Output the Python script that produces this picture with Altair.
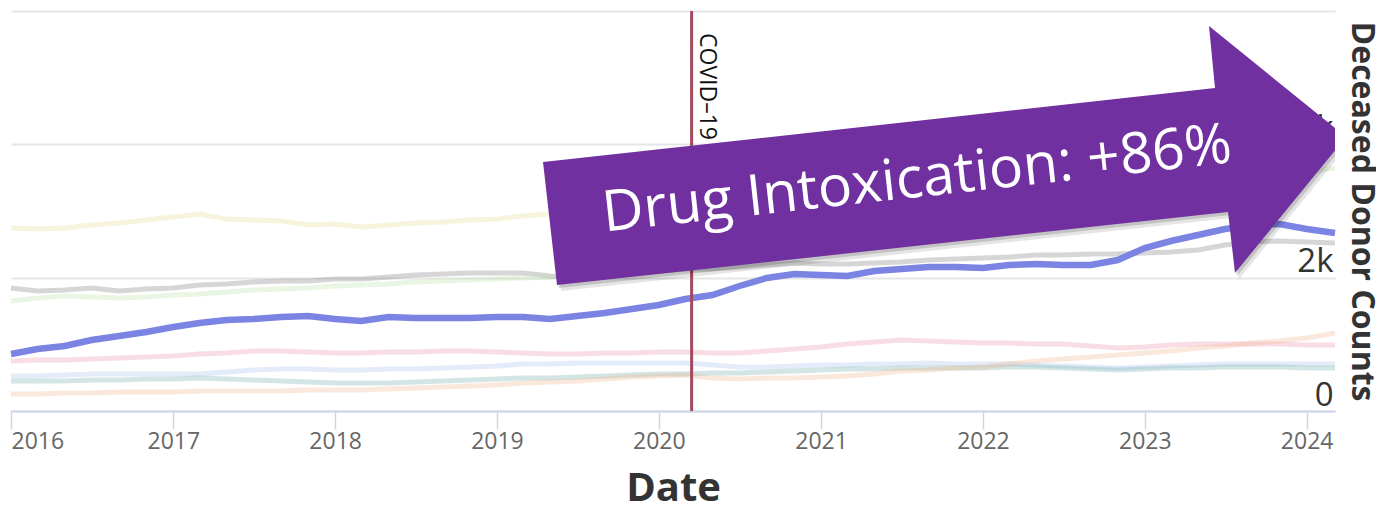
import altair as alt
import pandas as pd

# ---- data ----
DATES = pd.date_range("2016-01-01", "2024-01-01", freq="2MS").strftime("%Y-%m-%d").tolist() + ["2024-03-05"]

DRUG_INTOX = [855, 930, 975, 1065, 1125, 1185,
              1260, 1320, 1365, 1380, 1410, 1425,
              1380, 1350, 1410, 1395, 1395, 1395,
              1410, 1410, 1380, 1425, 1470, 1530,
              1590, 1680, 1740, 1875, 1995, 2055,
              2040, 2025, 2100, 2130, 2160, 2160,
              2145, 2190, 2205, 2190, 2190, 2265,
              2445, 2550, 2640, 2730, 2790, 2805,
              2730, 2670]

STROKE = [2745, 2730, 2745, 2790, 2820, 2865,
          2910, 2955, 2880, 2865, 2850, 2790,
          2805, 2760, 2790, 2820, 2835, 2865,
          2880, 2925, 2955, 3000, 3030, 3060,
          3090, 3120, 3080, 3150, 3220, 3280,
          3320, 3360, 3400, 3430, 3460, 3490,
          3520, 3560, 3600, 3640, 3680, 3720,
          3780, 3840, 3900, 3950, 3990, 4030,
          4060, 4080]

BLUNT = [1845, 1800, 1815, 1845, 1800, 1830,
         1845, 1890, 1905, 1935, 1950, 1950,
         1980, 1980, 2010, 2040, 2055, 2070,
         2070, 2070, 2025, 2010, 2040, 2070,
         2100, 2130, 2130, 2160, 2190, 2220,
         2205, 2205, 2220, 2235, 2265, 2280,
         2295, 2310, 2340, 2340, 2355, 2355,
         2370, 2385, 2415, 2490, 2535, 2550,
         2535, 2520]

CARDIO = [1650, 1695, 1725, 1710, 1695, 1710,
          1740, 1755, 1785, 1815, 1830, 1845,
          1875, 1890, 1905, 1935, 1950, 1965,
          1980, 1995, 2010, 2040, 2070, 2100,
          2130, 2180, 2250, 2300, 2380, 2450,
          2480, 2540, 2600, 2660, 2690, 2740,
          2790, 2850, 2900, 2960, 3010, 3080,
          3150, 3210, 3280, 3350, 3440, 3520,
          3590, 3645]

GUNSHOT = [750, 765, 765, 780, 795, 810,
           825, 855, 870, 900, 900, 885,
           870, 870, 885, 885, 900, 900,
           885, 870, 855, 855, 870, 870,
           885, 885, 870, 870, 900, 930,
           960, 1005, 1035, 1065, 1050, 1035,
           1020, 1020, 1005, 1005, 975, 945,
           960, 990, 1005, 1005, 1005, 1005,
           990, 990]

ASPHYX = [525, 525, 540, 555, 555, 555,
          555, 555, 585, 615, 630, 630,
          615, 615, 630, 630, 645, 660,
          675, 705, 705, 720, 720, 720,
          720, 720, 690, 660, 660, 675,
          690, 690, 705, 705, 720, 705,
          705, 705, 690, 675, 660, 645,
          660, 675, 690, 705, 705, 705,
          705, 705]

NATURAL = [450, 450, 450, 465, 465, 480,
           480, 495, 480, 465, 450, 435,
           420, 420, 420, 435, 450, 465,
           480, 495, 495, 510, 525, 540,
           555, 555, 570, 570, 585, 600,
           615, 630, 630, 645, 645, 645,
           645, 660, 660, 645, 630, 615,
           630, 645, 645, 660, 660, 660,
           645, 645]

OTHER = [255, 255, 270, 270, 285, 285,
         285, 300, 300, 300, 300, 315,
         315, 315, 330, 345, 360, 375,
         390, 420, 435, 450, 480, 510,
         525, 540, 495, 480, 495, 495,
         510, 525, 555, 600, 615, 645,
         660, 705, 750, 780, 810, 840,
         870, 900, 945, 975, 1020, 1050,
         1095, 1170]

OTHER_NAMES = ["Intracranial Hemorrhage/Stroke", "Blunt Injury", "Cardiovascular",
               "Gunshot Wound", "Asphyxiation", "Natural Causes", "Other"]
OTHER_VALUES = [STROKE, BLUNT, CARDIO, GUNSHOT, ASPHYX, NATURAL, OTHER]
OTHER_COLORS = ["#e4da91", "#767676", "#b9e1a5", "#e88ea5", "#a2c0e8", "#6ca8a5", "#f2b28a"]

COVID_DATE = "2020-03-15"
ARROW_LABEL = "Drug Intoxication: +86%"
# arrow outline (pixels inside plot area)
ARROW_PTS = [[532, 151], [1204, 77], [1198, 15], [1335, 126], [1224, 262], [1217, 201], [546, 274]]

# ---- tables ----
rows = []
for name, vals in zip(OTHER_NAMES, OTHER_VALUES):
    for d, v in zip(DATES, vals):
        rows.append({"date": d, "value": v, "series": name})
df_other = pd.DataFrame(rows)
df_drug = pd.DataFrame({"date": DATES, "value": DRUG_INTOX, "series": "Drug Intoxication"})
df_covid = pd.DataFrame({"date": [COVID_DATE], "label": ["COVID\u201319"]})


def feature(dx, dy):
    ring = [[p[0] + dx, p[1] + dy] for p in ARROW_PTS]
    ring.append(ring[0])
    return {"type": "Feature", "properties": {}, "geometry": {"type": "Polygon", "coordinates": [ring]}}


FONT = "Open Sans"

x_enc = alt.X(
    "date:T",
    title="Date",
    scale=alt.Scale(type="utc", domain=[alt.DateTime(year=2016, month=1, date=1, utc=True),
                                        alt.DateTime(year=2024, month=3, date=5, utc=True)]),
    axis=alt.Axis(
        values=[alt.DateTime(year=y, month=1, date=1, utc=True) for y in range(2016, 2025)],
        labelExpr="utcFormat(datum.value, '%Y')",
        grid=False, domainColor="#ccd6eb", domainWidth=2,
        tickColor="#ccd6eb", tickWidth=1.5, tickSize=18,
        labelPadding=1, labelFont=FONT, labelFontSize=23, labelColor="#666666",
        labelFlush=True, labelOverlap=False,
        titleFont=FONT, titleFontSize=40, titleFontWeight="bold", titleColor="#333333",
        titleY=57, titleBaseline="top",
    ),
)
y_enc = alt.Y(
    "value:Q",
    title="Deceased Donor Counts",
    scale=alt.Scale(domain=[0, 6000], nice=False),
    axis=alt.Axis(
        orient="right", values=[0, 2000, 4000, 6000],
        labelExpr="datum.value >= 6000 ? '' : (datum.value == 0 ? '0' : (datum.value / 1000) + 'k')",
        domain=False, ticks=False, tickSize=0, labelPadding=-2,
        labelAlign="right", labelBaseline="alphabetic", labelOffset=-6,
        labelFont=FONT, labelFontSize=33, labelColor="#333333",
        gridColor="#e6e6e6", gridWidth=2,
        titleFont=FONT, titleFontSize=32, titleFontWeight="bold", titleColor="#333333",
        titleAngle=90, titleX=16, titleY=200, titleAlign="center", titleBaseline="alphabetic",
    ),
)

others = alt.Chart(df_other).mark_line(strokeWidth=5, opacity=0.3).encode(
    x=x_enc, y=y_enc,
    color=alt.Color("series:N", scale=alt.Scale(domain=OTHER_NAMES, range=OTHER_COLORS), legend=None),
)
drug = alt.Chart(df_drug).mark_line(strokeWidth=6.5, color="#7b84e2").encode(x=x_enc, y=y_enc)

covid_rule = alt.Chart(df_covid).mark_rule(color="#a4495f", strokeWidth=3).encode(x=x_enc)
covid_text = alt.Chart(df_covid).mark_text(
    angle=90, align="left", baseline="alphabetic", dy=-8, font=FONT, fontSize=23, color="#111111"
).encode(x=x_enc, y=alt.value(22), text="label:N")

proj = dict(type="identity", scale=1, translate=[0, 0])
shadow1 = alt.Chart(alt.Data(values=[feature(4, 6)])).mark_geoshape(
    fill="#000000", opacity=0.10, strokeWidth=0).project(**proj)
shadow2 = alt.Chart(alt.Data(values=[feature(2, 3)])).mark_geoshape(
    fill="#000000", opacity=0.15, strokeWidth=0).project(**proj)
arrow = alt.Chart(alt.Data(values=[feature(0, 0)])).mark_geoshape(
    fill="#7030a0", opacity=1, strokeWidth=0).project(**proj)

arrow_text = alt.Chart(pd.DataFrame({"t": [ARROW_LABEL]})).mark_text(
    angle=353.7, align="center", baseline="middle", font=FONT, fontSize=57, color="#ffffff"
).encode(text="t:N", x=alt.value(906), y=alt.value(169))

chart = alt.layer(
    others, drug, covid_rule, covid_text, shadow1, shadow2, arrow, arrow_text
).properties(
    width=1324, height=400,
    autosize=alt.AutoSizeParams(type="none"),
    padding={"left": 3, "top": 3, "right": 41, "bottom": 94},
).configure_view(strokeWidth=0)

chart.save("out.html", embed_options={"renderer": "svg", "actions": False})
